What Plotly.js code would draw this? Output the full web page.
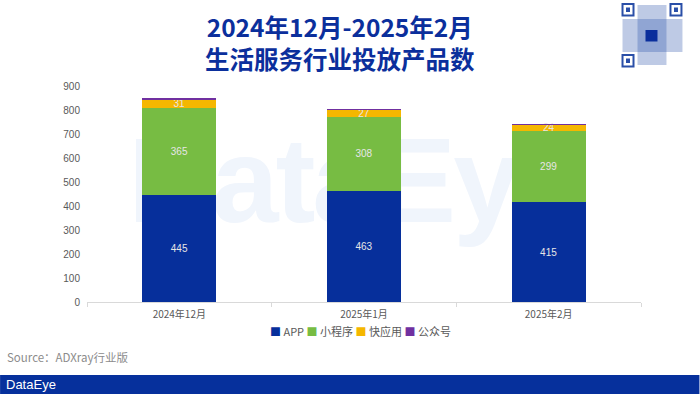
<!DOCTYPE html>
<html>
<head>
<meta charset="utf-8">
<script src="https://cdn.plot.ly/plotly-3.0.1.min.js"></script>
<style>
  html, body { margin: 0; padding: 0; background: #ffffff; }
  #wrap { position: relative; width: 700px; height: 394px; overflow: hidden; }
  #wm { position: absolute; left: 128px; top: 120px; font-family: "Liberation Sans", Arial, sans-serif; font-weight: bold; font-size: 120px; color: #f0f5fc; letter-spacing: -3px; line-height: 1; }
  #chart { position: absolute; left: 0; top: 0; width: 700px; height: 394px; }
</style>
</head>
<body>
<div id="wrap">
  <div id="wm">DataEye</div>
  <div id="chart"></div>
</div>
<script>
const categories = ["2024年12月", "2025年1月", "2025年2月"];
const seriesNames = ["APP", "小程序", "快应用", "公众号"];
const appValues = [445, 463, 415];
const miniValues = [365, 308, 299];
const quickValues = [31, 27, 24];
const officialValues = [8, 5, 3];
const yTicks = [0, 100, 200, 300, 400, 500, 600, 700, 800, 900];

const colors = ["#062f9b", "#77bc43", "#f5b700", "#7030a0"];
const seriesValues = [appValues, miniValues, quickValues, officialValues];

const traces = seriesValues.map((vals, i) => ({
  type: "bar",
  name: seriesNames[i],
  x: categories,
  y: vals,
  marker: { color: colors[i], line: { width: 0 } },
  text: i < 3 ? vals.map(String) : undefined,
  textposition: i < 3 ? "inside" : "none",
  insidetextanchor: "middle",
  constraintext: "none",
  textangle: 0,
  textfont: { family: "Liberation Sans, Arial, sans-serif", size: 10, color: "#e6e6e6" },
  hoverinfo: "none"
}));

const CJK = "Noto Sans CJK SC, Liberation Sans, sans-serif";
const PW = 700 - 87 - 58.5;
const px = (x) => (x - 87) / PW;
const py = (y) => (302 - y) / 216;

const legendText = seriesNames.map((n, i) =>
  "<span style='color:" + colors[i] + "'>■</span> " + n).join(" ");

const qr = (x0, y0, x1, y1, fill, line) => ({
  type: "rect", xref: "paper", yref: "paper",
  x0: px(x0), x1: px(x1), y0: py(y0), y1: py(y1),
  fillcolor: fill, line: line || { width: 0 }
});

const layout = {
  width: 700,
  height: 394,
  barmode: "stack",
  bargap: 0.6,
  paper_bgcolor: "rgba(0,0,0,0)",
  plot_bgcolor: "rgba(0,0,0,0)",
  margin: { l: 87, r: 58.5, t: 86, b: 92 },
  showlegend: false,
  uniformtext: { mode: "show", minsize: 10 },
  xaxis: {
    type: "category",
    showline: true,
    linecolor: "#d9d9d9",
    linewidth: 1,
    ticks: "outside",
    tickson: "boundaries",
    ticklen: 4,
    tickcolor: "#d9d9d9",
    showgrid: false,
    zeroline: false,
    ticklabelstandoff: 3,
    tickfont: { family: CJK, size: 10, color: "#595959" }
  },
  yaxis: {
    range: [0, 900],
    tickvals: yTicks,
    ticktext: yTicks.map(String),
    showgrid: false,
    zeroline: false,
    showline: false,
    ticks: "",
    ticklabelstandoff: 6,
    tickfont: { family: "Liberation Sans, Arial, sans-serif", size: 10, color: "#595959" }
  },
  annotations: [
    {
      xref: "paper", yref: "paper",
      x: px(340), y: py(43),
      xanchor: "center", yanchor: "middle",
      text: "<b>2024年12月-2025年2月<br>生活服务行业投放产品数</b>",
      showarrow: false,
      align: "center",
      font: { family: CJK, size: 24.5, color: "#0b2f9c" }
    },
    {
      xref: "paper", yref: "paper",
      x: px(361), y: py(331),
      xanchor: "center", yanchor: "middle",
      text: legendText,
      showarrow: false,
      font: { family: CJK, size: 11, color: "#595959" }
    },
    {
      xref: "paper", yref: "paper",
      x: px(5), y: py(357),
      xanchor: "left", yanchor: "middle",
      text: "Source：ADXray行业版",
      showarrow: false,
      font: { family: CJK, size: 11.5, color: "#8c8c8c" }
    },
    {
      xref: "paper", yref: "paper",
      x: px(4), y: py(384.5),
      xanchor: "left", yanchor: "middle",
      text: "DataEye",
      showarrow: false,
      font: { family: "Liberation Sans, Arial, sans-serif", size: 13, color: "#ffffff" }
    }
  ],
  shapes: [
    { type: "rect", xref: "paper", yref: "paper", layer: "below",
      x0: px(0), x1: px(700), y0: py(375), y1: py(395),
      fillcolor: "#06309c", line: { width: 0 } },
    qr(638, 5, 667, 65, "rgba(40,80,170,0.30)"),
    qr(623, 19, 683, 52, "rgba(40,80,170,0.30)"),
    qr(623, 4, 634, 15.5, "#ffffff", { color: "#2a4fa8", width: 2 }),
    qr(626.5, 7.5, 630.5, 12, "#2a4fa8"),
    qr(671, 4, 682, 15.5, "#ffffff", { color: "#2a4fa8", width: 2 }),
    qr(674.5, 7.5, 678.5, 12, "#2a4fa8"),
    qr(623, 55, 634, 66.5, "#ffffff", { color: "#2a4fa8", width: 2 }),
    qr(626.5, 58.5, 630.5, 63, "#2a4fa8"),
    qr(646, 30, 658, 41.5, "#0a2e9c")
  ]
};

Plotly.newPlot("chart", traces, layout, { displayModeBar: false, staticPlot: true });
</script>
</body>
</html>
